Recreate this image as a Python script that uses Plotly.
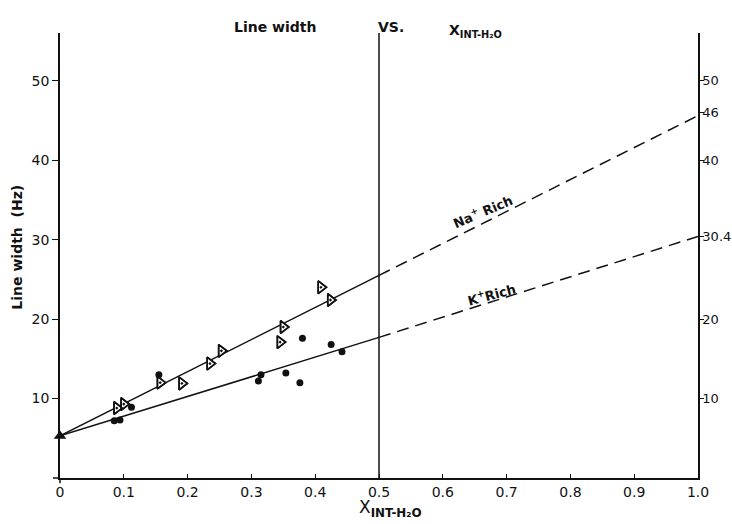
import plotly.graph_objects as go

# Data
na_x = [0.089, 0.100, 0.157, 0.191, 0.235, 0.253, 0.345, 0.350, 0.409, 0.424]
na_y = [8.8, 9.3, 12.0, 11.9, 14.4, 16.0, 17.1, 19.0, 24.0, 22.4]
k_x = [0.085, 0.094, 0.112, 0.155, 0.311, 0.315, 0.354, 0.376, 0.380, 0.425, 0.442]
k_y = [7.2, 7.3, 8.9, 13.0, 12.2, 13.0, 13.2, 12.0, 17.6, 16.8, 15.9]

origin_x = [0.0]
origin_y = [5.3]

na_fit_x_solid = [0.0, 0.5]
na_fit_y_solid = [5.3, 25.5]
na_fit_x_dash = [0.5, 1.0]
na_fit_y_dash = [25.5, 45.6]

k_fit_x_solid = [0.0, 0.5]
k_fit_y_solid = [5.3, 17.7]
k_fit_x_dash = [0.5, 1.0]
k_fit_y_dash = [17.7, 30.4]

x_ticks = [0, 0.1, 0.2, 0.3, 0.4, 0.5, 0.6, 0.7, 0.8, 0.9, 1.0]
x_ticktext = ["0", "0.1", "0.2", "0.3", "0.4", "0.5", "0.6", "0.7", "0.8", "0.9", "1.0"]
y_left_ticks = [10, 20, 30, 40, 50]
y_right_ticks = [10, 20, 30.4, 40, 46, 50]
y_right_text = ["10", "20", "30.4", "40", "46", "50"]

FONT = "DejaVu Sans"
BLACK = "#111111"

fig = go.Figure()

line_style = dict(color=BLACK, width=1.5)
dash_style = dict(color=BLACK, width=1.5, dash="12px,7px")
fig.add_trace(go.Scatter(x=na_fit_x_solid, y=na_fit_y_solid, mode="lines", line=line_style, showlegend=False, hoverinfo="skip"))
fig.add_trace(go.Scatter(x=na_fit_x_dash, y=na_fit_y_dash, mode="lines", line=dash_style, showlegend=False, hoverinfo="skip"))
fig.add_trace(go.Scatter(x=k_fit_x_solid, y=k_fit_y_solid, mode="lines", line=line_style, showlegend=False, hoverinfo="skip"))
fig.add_trace(go.Scatter(x=k_fit_x_dash, y=k_fit_y_dash, mode="lines", line=dash_style, showlegend=False, hoverinfo="skip"))

# white fill under triangles so the line does not run through them
fig.add_trace(go.Scatter(x=na_x, y=na_y, mode="markers", showlegend=False, hoverinfo="skip",
                         marker=dict(symbol="triangle-right", size=11, color="white",
                                     line=dict(color=BLACK, width=1.6)), cliponaxis=False))
fig.add_trace(go.Scatter(x=na_x, y=na_y, mode="markers", name="Na+ Rich",
                         marker=dict(symbol="triangle-right-open-dot", size=11, color=BLACK,
                                     line=dict(color=BLACK, width=1.6)),
                         showlegend=False, cliponaxis=False))
fig.add_trace(go.Scatter(x=k_x, y=k_y, mode="markers", name="K+ Rich",
                         marker=dict(symbol="circle", size=7, color=BLACK),
                         showlegend=False, cliponaxis=False))
fig.add_trace(go.Scatter(x=origin_x, y=origin_y, mode="markers",
                         marker=dict(symbol="triangle-up", size=11, color=BLACK),
                         showlegend=False, cliponaxis=False))
# invisible trace to activate right axis
fig.add_trace(go.Scatter(x=[1.0], y=[50], yaxis="y2", mode="markers",
                         marker=dict(opacity=0), showlegend=False, hoverinfo="skip"))

# vertical line at x = 0.5
fig.add_shape(type="line", xref="x", yref="y", x0=0.5, x1=0.5, y0=0, y1=56,
              line=dict(color=BLACK, width=1.5))
# small axis overhangs at the origin
fig.add_shape(type="line", xref="paper", yref="paper", x0=-0.011, x1=0, y0=0, y1=0,
              line=dict(color=BLACK, width=1.5))
fig.add_shape(type="line", xref="paper", yref="paper", x0=0, x1=0, y0=-0.012, y1=0,
              line=dict(color=BLACK, width=1.5))

ann_font = dict(family=FONT, size=13, color=BLACK)
bold_font = dict(family=FONT, size=14, color=BLACK)

fig.add_annotation(text="<b>Line width</b>", xref="paper", yref="paper", x=0.337, y=1.0135,
                   showarrow=False, font=bold_font, xanchor="center", yanchor="middle")
fig.add_annotation(text="<b>VS.</b>", xref="paper", yref="paper", x=0.519, y=1.0135,
                   showarrow=False, font=bold_font, xanchor="center", yanchor="middle")
fig.add_annotation(text="<b>X<sub>INT-H₂O</sub></b>", xref="paper", yref="paper", x=0.607, y=1.005,
                   showarrow=False, font=bold_font, xanchor="left", yanchor="middle")
fig.add_annotation(text="<b>Line width  (Hz)</b>", xref="paper", yref="paper", x=-0.068, y=0.519,
                   showarrow=False, font=dict(family=FONT, size=14, color=BLACK), textangle=-90,
                   xanchor="center", yanchor="middle")
fig.add_annotation(text="X<sub><b>INT-H₂O</b></sub>", xref="paper", yref="paper", x=0.466, y=-0.068,
                   showarrow=False, font=dict(family=FONT, size=17, color=BLACK),
                   xanchor="left", yanchor="middle")
fig.add_annotation(text="<b>Na<sup>+</sup> Rich</b>", xref="x", yref="y", x=0.663, y=33.6,
                   showarrow=False, font=ann_font, textangle=-23)
fig.add_annotation(text="<b>K<sup>+</sup>Rich</b>", xref="x", yref="y", x=0.677, y=23.1,
                   showarrow=False, font=ann_font, textangle=-15)

tickf = dict(family=FONT, size=14, color=BLACK)
fig.update_layout(
    width=732, height=524,
    margin=dict(l=60, r=34, t=33, b=46, autoexpand=False),
    paper_bgcolor="white", plot_bgcolor="white",
    font=dict(family=FONT, size=13, color=BLACK),
    hovermode=False,
    xaxis=dict(range=[0, 1.0], tickvals=x_ticks, ticktext=x_ticktext, showgrid=False, zeroline=False,
               showline=True, linecolor=BLACK, linewidth=1.5, ticks="inside", ticklen=4,
               tickcolor=BLACK, tickfont=tickf, automargin=False),
    yaxis=dict(range=[0, 56], tickvals=y_left_ticks, showgrid=False, zeroline=False,
               showline=True, linecolor=BLACK, linewidth=1.5, ticks="outside", ticklen=6,
               tickcolor=BLACK, tickfont=tickf, automargin=False),
    yaxis2=dict(range=[0, 56], overlaying="y", side="right", tickvals=y_right_ticks,
                ticktext=y_right_text, showgrid=False, zeroline=False, showline=True,
                linecolor=BLACK, linewidth=1.5, ticks="outside", ticklen=4, tickcolor=BLACK,
                ticklabelstandoff=-4,
                tickfont=dict(family=FONT, size=13, color=BLACK),
                automargin=False),
)

fig.write_html(
    "out.html",
    config={"displayModeBar": False},
    post_script="document.body.style.margin='0';document.body.style.overflow='hidden';",
)
